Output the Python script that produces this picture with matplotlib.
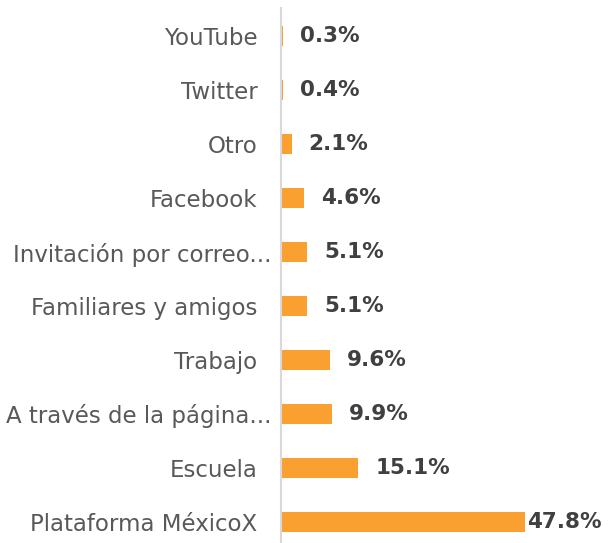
import matplotlib
matplotlib.use("Agg")
import matplotlib.pyplot as plt
import matplotlib.transforms as mtransforms

categories = ["Plataforma MéxicoX", "Escuela", "A través de la página...", "Trabajo",
              "Familiares y amigos", "Invitación por correo...", "Facebook", "Otro",
              "Twitter", "YouTube"]
values = [47.8, 15.1, 9.9, 9.6, 5.1, 5.1, 4.6, 2.1, 0.4, 0.3]
labels = ["47.8%", "15.1%", "9.9%", "9.6%", "5.1%", "5.1%", "4.6%", "2.1%", "0.4%", "0.3%"]

plt.rcParams['font.family'] = ['DejaVu Sans']

fig = plt.figure(figsize=(6.10, 5.43), dpi=100)
ax = fig.add_axes([281 / 610, 0, 329 / 610, 535 / 543])

pos = list(range(len(categories)))
ax.barh(pos, values, height=0.36, color="#F9A031")

ax.set_xlim(0, 64.45)
ax.set_ylim(-0.39, 9.52)

fig.canvas.draw()
renderer = fig.canvas.get_renderer()
for y, v, t in zip(pos, values, labels):
    off = mtransforms.offset_copy(ax.transData, fig=fig, x=17, y=0, units="dots")
    txt = ax.text(v, y, t, va="center", ha="left", fontsize=15.5,
                  fontweight="bold", color="#404040", transform=off)
    bb = txt.get_window_extent(renderer)
    if bb.x1 > 608:
        # push label back inside the figure like the original does
        txt.set_transform(mtransforms.offset_copy(ax.transData, fig=fig, x=2, y=0, units="dots"))

ax.set_yticks(pos)
ax.set_yticklabels(categories, fontsize=16.5, color="#595959")
ax.tick_params(axis="y", length=0, pad=17)
for lab in ax.get_yticklabels():
    if lab.get_text().endswith("..."):
        lab.set_transform(lab.get_transform() + mtransforms.ScaledTranslation(14 / 100, 0, fig.dpi_scale_trans))
ax.set_xticks([])
for s in ["top", "right", "bottom"]:
    ax.spines[s].set_visible(False)
ax.spines["left"].set_color("#D9D9D9")
ax.spines["left"].set_linewidth(1.5)

fig.savefig("out.png", dpi=100)
